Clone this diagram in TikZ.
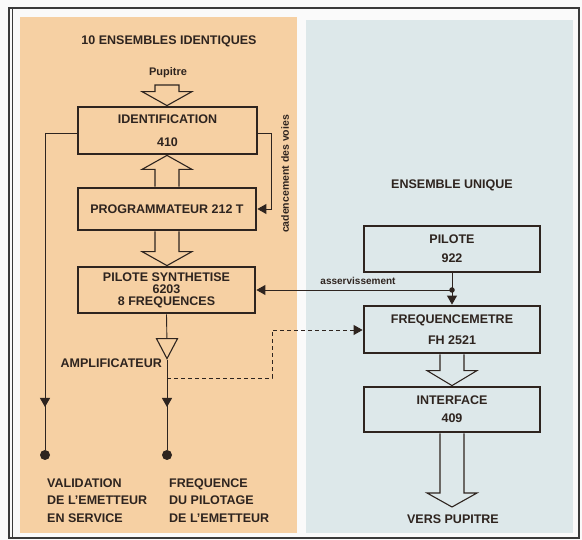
\documentclass[tikz,border=0pt]{standalone}
\usepackage{fontspec}
\setmainfont{Liberation Sans}
\usetikzlibrary{calc,arrows.meta,shapes.geometric}
\definecolor{peach}{HTML}{F6D0A3}
\definecolor{paleblue}{HTML}{DDE8EA}
\definecolor{ink}{HTML}{2E241F}
\definecolor{framegray}{HTML}{3A3A3A}
\tikzset{
  blockbox/.style={draw=ink, line width=2.8pt, minimum width=177, inner sep=0pt,
    align=center, font=\bfseries\fontsize{12.5}{20}\selectfont, text=ink},
  lbl/.style={inner sep=0pt, text=ink, font=\bfseries\fontsize{12.5}{14}\selectfont},
  small/.style={inner sep=0pt, text=ink, font=\bfseries\fontsize{10}{11}\selectfont},
  wire/.style={draw=ink, line width=0.9pt},
  tip/.style={-{Triangle[length=9pt,width=10pt,fill=ink]}},
  hollow/.style={draw=ink, line width=1.1pt, line join=miter},
  dotnode/.style={circle, fill=ink, inner sep=0pt, minimum size=10pt},
  dashwire/.style={draw=ink, line width=0.9pt, dash pattern=on 4pt off 3pt}
}
\newcommand\hollowv[3]{%
  \draw[hollow] let \p1=(#1), \p2=(#2) in
    (\x1-12pt,\y1) -- (\x1-12pt,\y2#3) -- (\x1-25pt,\y2#3) -- (\x1,\y2)
    -- (\x1+25pt,\y2#3) -- (\x1+12pt,\y2#3) -- (\x1+12pt,\y1);}
\begin{document}
\begin{tikzpicture}[x=1pt,y=-1pt]
\useasboundingbox (0,0) rectangle (582,540);
\fill[white!96!gray] (0,0) rectangle (582,540);
% panels
\fill[peach] (20,17) rectangle (297,533);
\fill[paleblue] (306,20) rectangle (573,533);
\draw[framegray, line width=1.2pt] (9,8) rectangle (579,538);
\draw[framegray, line width=0.8pt] (12.5,8) -- (12.5,538);

% titles
\node[lbl] (t1) at (169,41) {10 ENSEMBLES IDENTIQUES};
\node[lbl] (t2) at (452,185) {ENSEMBLE UNIQUE};
\node[small, font=\bfseries\fontsize{11}{12}\selectfont] (pup) at (168,73) {Pupitre};

% boxes left
\node[blockbox, minimum width=179, minimum height=47, font=\bfseries\fontsize{12.5}{23}\selectfont] (ident) at (167.5,130.5) {IDENTIFICATION\\410};
\node[blockbox, minimum width=178, minimum height=42] (prog) at (167,209) {PROGRAMMATEUR 212 T};
\node[blockbox, minimum width=177, minimum height=46, font=\bfseries\fontsize{12.5}{12}\selectfont] (pilsyn) at (166.5,290) {PILOTE SYNTHETISE\\6203\\8 FREQUENCES};

% boxes right
\node[blockbox, minimum width=176, minimum height=46, font=\bfseries\fontsize{12.5}{19}\selectfont] (pilote) at (452,249) {PILOTE\\922};
\node[blockbox, minimum width=176, minimum height=47, font=\bfseries\fontsize{12.5}{21}\selectfont] (freq) at (452,329.5) {FREQUENCEMETRE\\FH 2521};
\node[blockbox, minimum width=176, minimum height=45, font=\bfseries\fontsize{12.5}{18}\selectfont] (interf) at (452,409.5) {INTERFACE\\409};

% hollow arrows
\coordinate (pupin) at (167,85);
\draw[hollow] let \p1=(pupin), \p2=(ident.north) in
  (\x1-12pt,\y1) -- (\x1-12pt,\y2+14pt) -- (\x1-25pt,\y2+14pt) -- (\x1,\y2)
  -- (\x1+25pt,\y2+14pt) -- (\x1+12pt,\y2+14pt) -- (\x1+12pt,\y1) -- cycle;
\hollowv{prog.north}{ident.south}{-14pt}
\hollowv{prog.south}{pilsyn.north}{+14pt}
\hollowv{freq.south}{interf.north}{+15pt}
\coordinate (versend) at (452,507);
\hollowv{interf.south}{versend}{+14pt}
\node[lbl] (vers) at (453,519) {VERS PUPITRE};

% left validation line
\coordinate (lturn) at (45,133);
\coordinate (larr) at (45,407);
\node[dotnode] (ldot) at (45,455) {};
\draw[wire] ([yshift=-2.5pt]ident.west) -- (lturn) -- (ldot);
\draw[wire, tip] (lturn) -- (larr);

% cadencement
\coordinate (rturn) at (271,133);
\draw[wire, tip] ([yshift=-2.5pt]ident.east) -- (rturn) |- (prog.east);
\node[small, font=\bfseries\fontsize{10.5}{11}\selectfont, rotate=90] (cad) at (285,174) {cadencement des voies};

% asservissement
\coordinate (junc) at (pilote.south |- pilsyn.east);
\node[circle, fill=ink, inner sep=0pt, minimum size=5.5pt] (jdot) at (junc) {};
\draw[wire] (pilote.south) -- (junc);
\draw[wire, tip] (junc) -- (freq.north);
\draw[wire, tip] (junc) -- (pilsyn.east);
\node[small] (asv) at (358,281) {asservissement};

% amplifier
\node[isosceles triangle, draw=ink, line width=1.1pt, shape border rotate=-90,
  isosceles triangle stretches, minimum width=21pt, minimum height=20pt,
  inner sep=0pt] (amp) at (167,345) {};
\node[lbl, anchor=east] (amplbl) at (162,363) {AMPLIFICATEUR};
\draw[wire] (pilsyn.south) -- (amp);
\coordinate (branch) at (167,378);
\coordinate (marr) at (167,407);
\node[dotnode] (mdot) at (167,455) {};
\draw[wire] (amp.apex) -- (mdot);
\draw[wire, tip] (amp.apex) -- (marr);

% dashed to frequencemetre
\coordinate (dturn1) at (272,378);
\coordinate (dturn2) at (272,330);
\draw[dashwire, tip] (branch) -- (dturn1) -- (dturn2) -- (dturn2 -| freq.west);

% bottom texts
\node[lbl, anchor=west, align=left, font=\bfseries\fontsize{12.5}{17.5}\selectfont] (valid) at (47,500.5) {VALIDATION\\DE L'EMETTEUR\\EN SERVICE};
\node[lbl, anchor=west, align=left, font=\bfseries\fontsize{12.5}{17.5}\selectfont] (fpil) at (169,500.5) {FREQUENCE\\DU PILOTAGE\\DE L'EMETTEUR};
\end{tikzpicture}
\end{document}
